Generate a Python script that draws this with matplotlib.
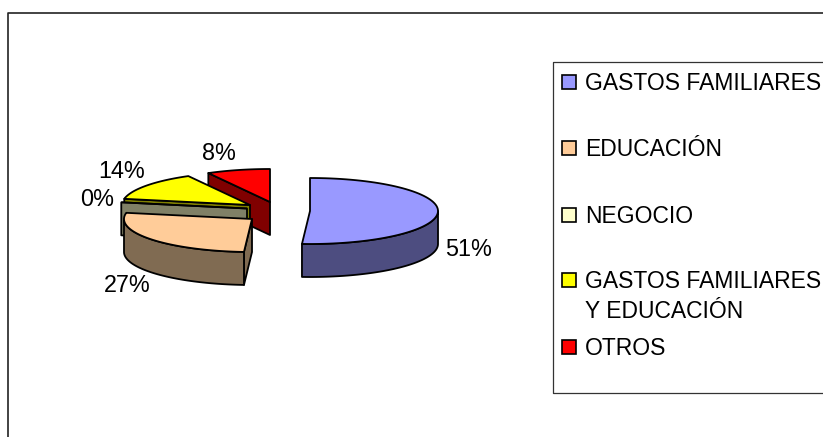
import numpy as np
import matplotlib
matplotlib.use('Agg')
import matplotlib.pyplot as plt
from matplotlib.patches import Polygon, Rectangle

plt.rcParams['font.family'] = ['Liberation Sans', 'DejaVu Sans']

# data
categories = ['GASTOS FAMILIARES', 'EDUCACIÓN', 'NEGOCIO',
              'GASTOS FAMILIARES\nY EDUCACIÓN', 'OTROS']
values = [51, 27, 0, 14, 8]
pct_labels = ['51%', '27%', '0%', '14%', '8%']

# look of the slices, same order as the data
colors = ['#9999FF', '#FFCC99', '#FFFFCC', '#FFFF00', '#FF0000']
side_colors = ['#4D4D80', '#806B52', '#808066', '#808000', '#800000']
centers = [(310, 211), (252, 219), (247, 208.5), (250, 205), (270, 202)]
label_pos = [(469, 249), (127, 285), (97, 200), (122, 172), (219, 153)]
legend_y = [82, 148, 215, 280, 347]

RX, RY, DEPTH = 128, 33, 33
FONT = 16.8
LEGEND_FONT = 16.5

fig = plt.figure(figsize=(8.23, 4.37), dpi=100)
ax = fig.add_axes([0, 0, 1, 1])
ax.set_xlim(0, 823)
ax.set_ylim(437, 0)
ax.axis('off')


def point(c, ang):
    return c[0] + RX * np.cos(ang), c[1] - RY * np.sin(ang)


def draw_slice(i, start, end):
    c = centers[i]
    line = dict(edgecolor='black', linewidth=1.3, joinstyle='round')
    # radial walls, only the ones facing the viewer
    for ang, sign in ((start, -1), (end, 1)):
        if sign * np.cos(ang) > 1e-6:
            x, y = point(c, ang)
            ax.add_patch(Polygon([c, (x, y), (x, y + DEPTH), (c[0], c[1] + DEPTH)],
                                 facecolor=side_colors[i], **line))
    # outer wall, only the part of the arc that looks to the front
    low, high = max(end, -np.pi), min(start, 0)
    if low < high:
        t = np.linspace(low, high, 60)
        xs, ys = point(c, t)
        pts = list(zip(xs, ys)) + list(zip(xs[::-1], ys[::-1] + DEPTH))
        ax.add_patch(Polygon(pts, facecolor=side_colors[i], **line))
    t = np.linspace(start, end, 80)
    xs, ys = point(c, t)
    ax.add_patch(Polygon([c] + list(zip(xs, ys)), facecolor=colors[i], **line))


# angles clockwise from 12 o'clock, taken from the values
ends = np.pi / 2 - np.cumsum(values) / sum(values) * 2 * np.pi
starts = np.r_[np.pi / 2, ends[:-1]]

# back slices first
for i in [4, 3, 2, 1, 0]:
    draw_slice(i, starts[i], ends[i])

for (x, y), txt in zip(label_pos, pct_labels):
    ax.text(x, y, txt, fontsize=FONT, ha='center', va='center', color='black')

# outer frame, cut by the picture on the right and at the bottom
ax.plot([8.5, 8.5, 823], [437, 13, 13], color='#222222', linewidth=1.2, clip_on=False)

# legend box, also runs off the right side
ax.plot([823, 553.5, 553.5, 823], [62, 62, 392.5, 392.5], color='#333333', linewidth=0.9)
for y, name, col in zip(legend_y, categories, colors):
    ax.add_patch(Rectangle((562, y - 7), 14, 14, facecolor=col,
                           edgecolor='black', linewidth=1.2))
    ax.text(585, y - 10, name, fontsize=LEGEND_FONT, ha='left', va='top', color='black',
            linespacing=1.41)

fig.savefig('out.png', dpi=100)
